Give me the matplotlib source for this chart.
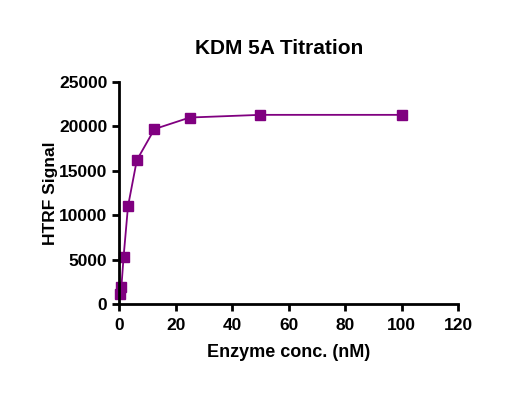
import numpy as np
import matplotlib.pyplot as plt

plt.rcParams['font.family'] = ['Liberation Sans', 'DejaVu Sans']
plt.rcParams['font.weight'] = 'bold'

conc = [0.39, 0.78, 1.56, 3.125, 6.25, 12.5, 25, 50, 100]
signal = [1100, 1900, 5300, 11000, 16200, 19700, 21000, 21300, 21300]

fig = plt.figure(figsize=(5.32, 3.96), dpi=100)
ax = fig.add_axes([0.224, 0.232, 0.637, 0.561])

ax.plot(conc, signal, color='#800080', linewidth=1.3, marker='s',
        markersize=7, clip_on=False)

ax.set_xlim(0, 120)
ax.set_ylim(0, 25000)
ax.set_xticks(np.arange(0, 121, 20))
ax.set_yticks(np.arange(0, 25001, 5000))

for s in ['top', 'right']:
    ax.spines[s].set_visible(False)
for s in ['left', 'bottom']:
    ax.spines[s].set_linewidth(2)
ax.tick_params(width=2, length=5, labelsize=12.5, direction='out')
ax.tick_params(axis='x', pad=5)
for lab in ax.get_xticklabels() + ax.get_yticklabels():
    lab.set_fontweight('bold')

fig.text(279 / 532, 1 - 48 / 396, "KDM 5A Titration", fontsize=15,
         fontweight='bold', ha='center', va='center')
ax.set_xlabel("Enzyme conc. (nM)", fontsize=13, fontweight='bold', labelpad=8)
ax.set_ylabel("HTRF Signal", fontsize=12.5, fontweight='bold', labelpad=1)

fig.savefig("out.png", dpi=100)
